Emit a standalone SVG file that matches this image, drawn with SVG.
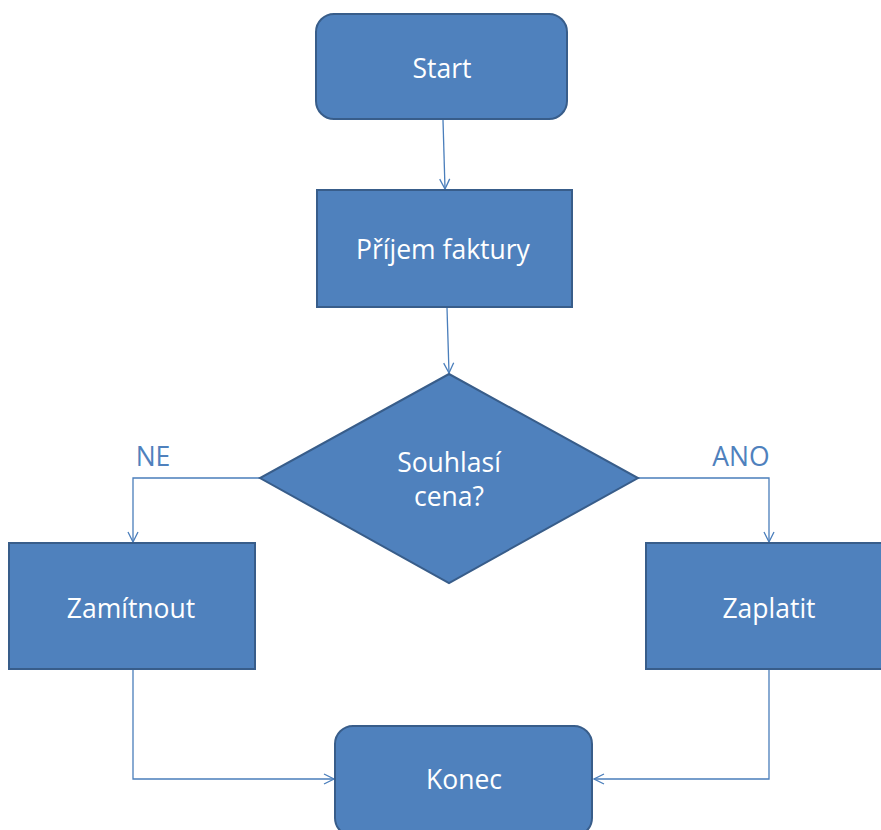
<svg xmlns="http://www.w3.org/2000/svg" width="881" height="830" viewBox="0 0 881 830">
<defs>
<style>
.node{fill:#4F81BD;stroke:#385D8A;stroke-width:2}
.lbl{fill:#FFFFFF;font-family:"Open Sans","Liberation Sans",sans-serif;font-size:26.5px;text-anchor:middle;dominant-baseline:central}
.edge{fill:none;stroke:#4A7EBB;stroke-width:1.3}
.elbl{fill:#4F81BD;font-family:"Open Sans","Liberation Sans",sans-serif;font-size:26.5px;text-anchor:middle;dominant-baseline:central}
</style>
<marker id="arr" viewBox="0 0 12 12" refX="11" refY="6" markerWidth="12" markerHeight="12" markerUnits="userSpaceOnUse" orient="auto">
<path d="M1,1 L11,6 L1,11" fill="none" stroke="#4A7EBB" stroke-width="1.3"/>
</marker>
</defs>
<rect width="881" height="830" fill="#FFFFFF"/>
<g id="connectors">
<path class="edge" d="M443,120 L445,189" marker-end="url(#arr)"/>
<path class="edge" d="M447,308 L449,373" marker-end="url(#arr)"/>
<path class="edge" d="M260,478 L133,478 L133,542" marker-end="url(#arr)"/>
<path class="edge" d="M638,478 L769,478 L769,542" marker-end="url(#arr)"/>
<path class="edge" d="M133,669 L133,779 L334,779" marker-end="url(#arr)"/>
<path class="edge" d="M769,669 L769,779 L594,779" marker-end="url(#arr)"/>
<text class="elbl" x="153" y="456">NE</text>
<text class="elbl" x="741" y="456">ANO</text>
</g>
<g id="start">
<rect class="node" x="316" y="14" width="251" height="105" rx="18"/>
<text class="lbl" x="442" y="68">Start</text>
</g>
<g id="prijem">
<rect class="node" x="317" y="190" width="255" height="117"/>
<text class="lbl" x="443" y="249">Příjem faktury</text>
</g>
<g id="souhlasi">
<polygon class="node" points="449,374 638,478 449,583 260,478"/>
<text class="lbl" x="449" y="462">Souhlasí</text>
<text class="lbl" x="449" y="496">cena?</text>
</g>
<g id="zamitnout">
<rect class="node" x="9" y="543" width="246" height="126"/>
<text class="lbl" x="131" y="608">Zamítnout</text>
</g>
<g id="zaplatit">
<rect class="node" x="646" y="543" width="236" height="126"/>
<text class="lbl" x="769" y="608">Zaplatit</text>
</g>
<g id="konec">
<rect class="node" x="335" y="726" width="257" height="110" rx="18"/>
<text class="lbl" x="464" y="779">Konec</text>
</g>
</svg>
